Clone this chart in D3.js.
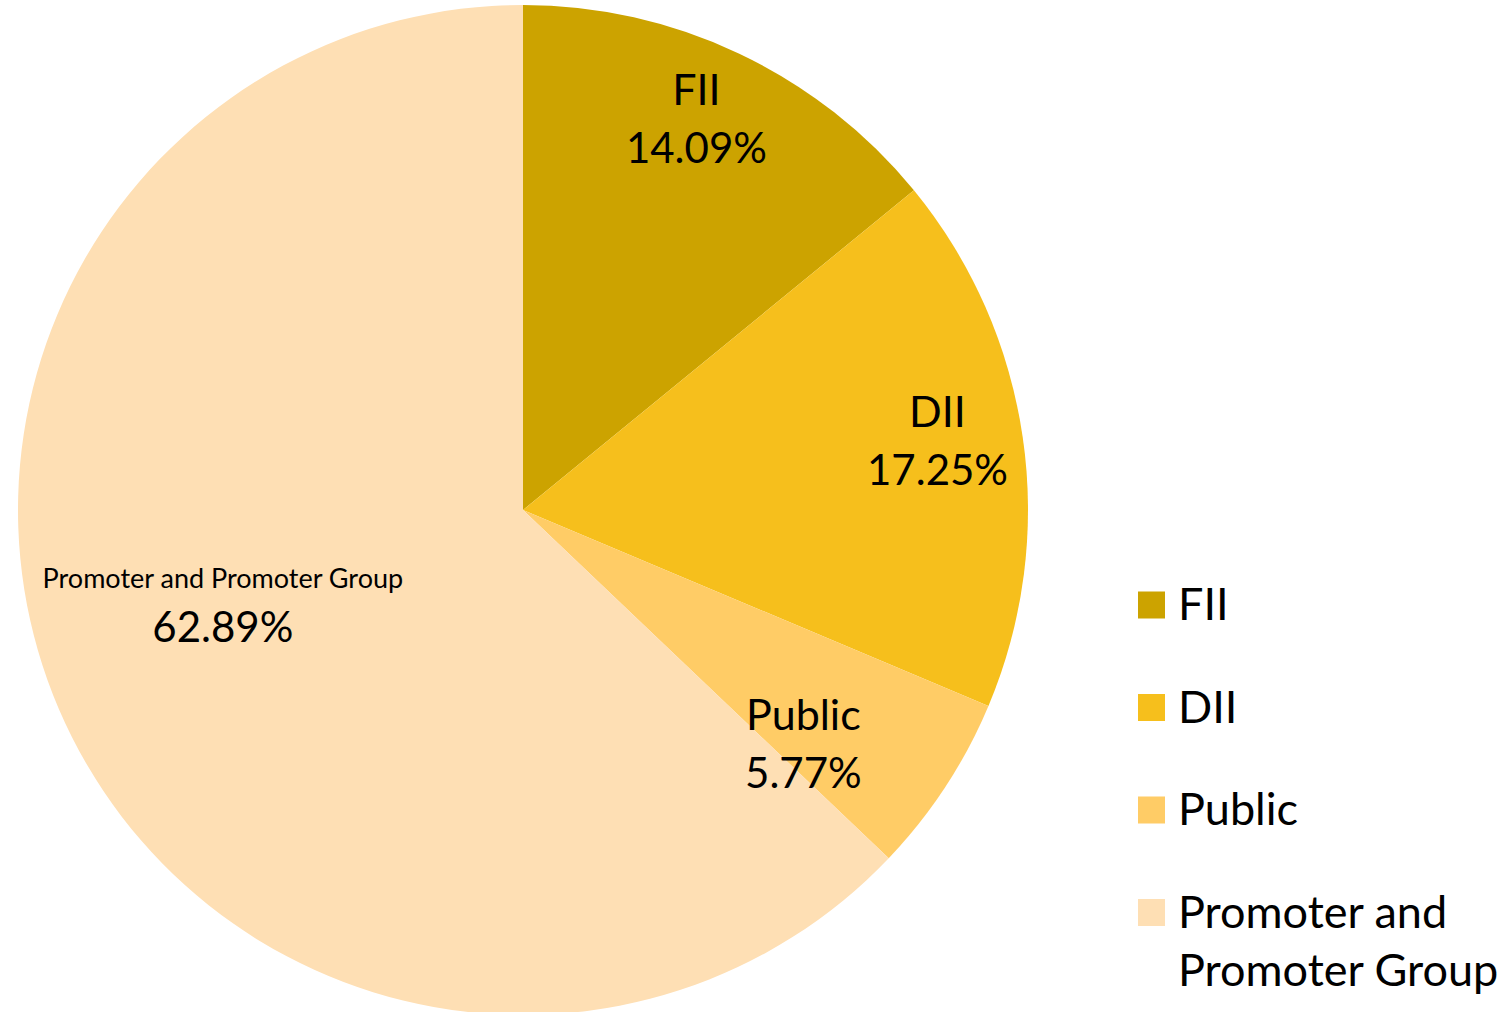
<!DOCTYPE html>
<html>
<head>
<meta charset="utf-8">
<script src="https://cdn.jsdelivr.net/npm/d3@7"></script>
<style>
  body { margin: 0; background: #fff; }
  svg { display: block; font-family: Lato, "Open Sans", sans-serif; }
</style>
</head>
<body>
<div id="chart"></div>
<script>
// Shareholding pattern pie

const categories = ["FII", "DII", "Public", "Promoter and Promoter Group"];
const shares = [14.09, 17.25, 5.77, 62.89];
const legendLines = [["FII"], ["DII"], ["Public"], ["Promoter and", "Promoter Group"]];

const colors = ["#CCA300", "#F6BF1C", "#FFCC66", "#FEDFB4"];

const width = 1508,
    height = 1012,
    cx = 523,
    cy = 510,
    radius = 505;

// label placement tweaks (Excel "best fit" style)
const labelRadius = [414, 418, 375, 318];
const labelAngleShift = [-0.6, 0.8, 8.4, 3.9];
const labelFont = [43, 43, 43, 27];

const svg = d3.select("#chart")
  .append("svg")
  .attr("width", width)
  .attr("height", height)
  .attr("viewBox", [0, 0, width, height]);

const data = categories.map((c, i) => ({ name: c, value: shares[i], i }));

const pie = d3.pie()
  .sort(null)
  .value(d => d.value);

const arc = d3.arc()
  .innerRadius(0)
  .outerRadius(radius);

const arcs = pie(data);

const g = svg.append("g")
  .attr("transform", `translate(${cx},${cy})`);

g.selectAll("path")
  .data(arcs)
  .join("path")
  .attr("d", arc)
  .attr("fill", d => colors[d.data.i]);

// labels
const labels = g.selectAll("g.label")
  .data(arcs)
  .join("g")
  .attr("class", "label")
  .attr("transform", d => {
    const a = (d.startAngle + d.endAngle) / 2 + labelAngleShift[d.data.i] * Math.PI / 180;
    const r = labelRadius[d.data.i];
    return `translate(${r * Math.sin(a)},${-r * Math.cos(a)})`;
  });

labels.append("text")
  .attr("text-anchor", "middle")
  .attr("y", d => d.data.i === 3 ? -27 : -29)
  .attr("font-size", d => labelFont[d.data.i])
  .attr("fill", "#000")
  .text(d => d.data.name);

labels.append("text")
  .attr("text-anchor", "middle")
  .attr("y", d => d.data.i === 3 ? 27 : 29)
  .attr("font-size", 42)
  .attr("fill", "#000")
  .text(d => d3.format(".2f")(d.data.value) + "%");

// legend
const legend = svg.append("g")
  .attr("transform", "translate(1138,0)");

const item = legend.selectAll("g")
  .data(data)
  .join("g")
  .attr("transform", d => `translate(0,${605 + d.i * 102.5})`);

item.append("rect")
  .attr("x", 0)
  .attr("y", -13.5)
  .attr("width", 27)
  .attr("height", 27)
  .attr("fill", d => colors[d.i]);

item.append("text")
  .attr("x", 40)
  .attr("font-size", 45)
  .attr("fill", "#000")
  .selectAll("tspan")
  .data(d => legendLines[d.i])
  .join("tspan")
  .attr("x", 40)
  .attr("y", (d, j) => 15 + j * 58)
  .text(d => d);
</script>
</body>
</html>
